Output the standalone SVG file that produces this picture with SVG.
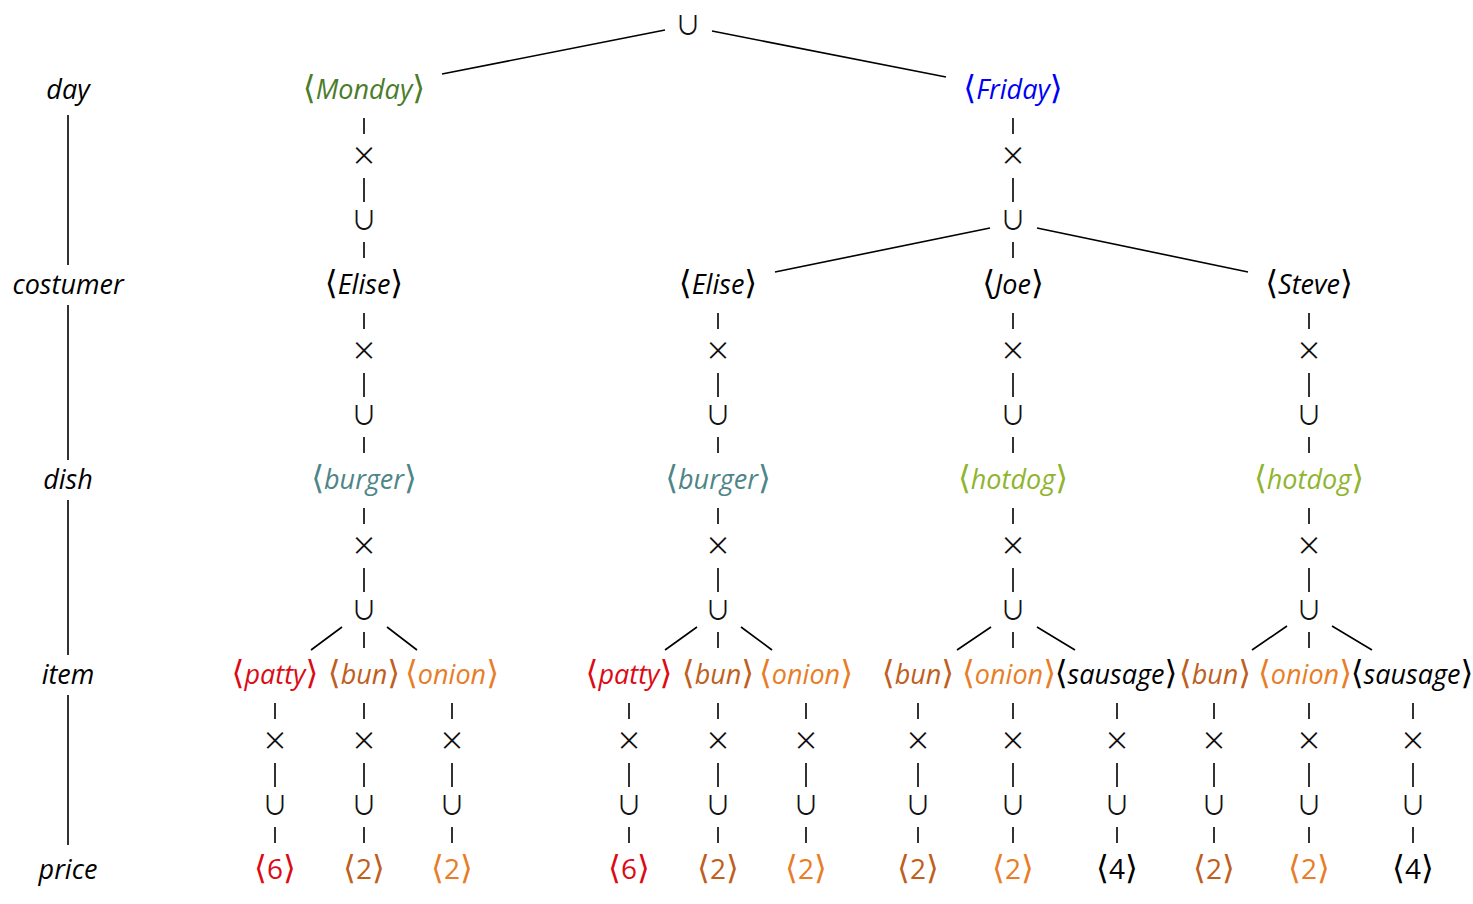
<svg xmlns="http://www.w3.org/2000/svg" width="1473" height="904" viewBox="0 0 1473 904">
  <style>
    .w { font-family: "Open Sans", "Noto Sans", "DejaVu Sans", sans-serif; font-style: italic; font-size: 27px; text-anchor: middle; }
    .n { font-family: "Open Sans", "Noto Sans", "DejaVu Sans", sans-serif; font-style: normal; font-size: 28px; text-anchor: middle; }
    .b { font-family: "DejaVu Sans", sans-serif; font-style: normal; font-size: 33px; }
    .op { font-family: "Noto Sans CJK JP", "DejaVu Sans", sans-serif; font-size: 26px; text-anchor: middle; fill: #111; }
    .lvl { font-family: "Open Sans", "Noto Sans", "DejaVu Sans", sans-serif; font-style: italic; font-size: 27px; text-anchor: middle; fill: #000; }
    .edge { stroke: #000; stroke-width: 1.6; fill: none; }
    .mon { fill: #4b7c2a; }
    .fri { fill: #0000f5; }
    .per { fill: #000; }
    .burger { fill: #4e8587; }
    .hotdog { fill: #8fb42d; }
    .patty { fill: #dc0a14; }
    .bun { fill: #be5f1e; }
    .onion { fill: #e87d28; }
    .sausage { fill: #000; }
  </style>

  <!-- connectors -->
  <g id="connectors" class="edge">
    <!-- level axis -->
    <path d="M68 115 V265 M68 305 V460 M68 500 V655 M68 695 V845"/>
    <!-- root union branches -->
    <path d="M665 30 L442 74 M712 31 L946 77"/>
    <!-- Monday chain -->
    <path d="M364 118 V134 M364 178 V202 M364 242 V258 M364 313 V329 M364 373 V397 M364 437 V453 M364 508 V524 M364 568 V592 M364 632 V648"/>
    <path d="M342 627 L311 650 M387 627 L417 650"/>
    <!-- Friday chain -->
    <path d="M1013 118 V134 M1013 178 V202 M1013 242 V258"/>
    <path d="M990 228 L775 272 M1037 228 L1248 272"/>
    <!-- Friday / Elise -->
    <path d="M718 313 V329 M718 373 V397 M718 437 V453 M718 508 V524 M718 568 V592 M718 632 V648"/>
    <path d="M697 627 L665 650 M741 627 L772 650"/>
    <!-- Friday / Joe -->
    <path d="M1013 313 V329 M1013 373 V397 M1013 437 V453 M1013 508 V524 M1013 568 V592 M1013 632 V648"/>
    <path d="M991 627 L957 650 M1037 627 L1075 650"/>
    <!-- Friday / Steve -->
    <path d="M1309 313 V329 M1309 373 V397 M1309 437 V453 M1309 508 V524 M1309 568 V592 M1309 632 V648"/>
    <path d="M1287 626 L1252 650 M1332 626 L1372 650"/>
    <!-- item to price chains -->
    <path d="M275 703 V719 M275 763 V787 M275 827 V843"/>
    <path d="M364 703 V719 M364 763 V787 M364 827 V843"/>
    <path d="M452 703 V719 M452 763 V787 M452 827 V843"/>
    <path d="M629 703 V719 M629 763 V787 M629 827 V843"/>
    <path d="M718 703 V719 M718 763 V787 M718 827 V843"/>
    <path d="M806 703 V719 M806 763 V787 M806 827 V843"/>
    <path d="M918 703 V719 M918 763 V787 M918 827 V843"/>
    <path d="M1013 703 V719 M1013 763 V787 M1013 827 V843"/>
    <path d="M1117 703 V719 M1117 763 V787 M1117 827 V843"/>
    <path d="M1214 703 V719 M1214 763 V787 M1214 827 V843"/>
    <path d="M1309 703 V719 M1309 763 V787 M1309 827 V843"/>
    <path d="M1413 703 V719 M1413 763 V787 M1413 827 V843"/>
  </g>

  <!-- level labels -->
  <g id="levels">
    <text class="lvl" x="68" y="99">day</text>
    <text class="lvl" x="68" y="294">costumer</text>
    <text class="lvl" x="68" y="489">dish</text>
    <text class="lvl" x="68" y="684">item</text>
    <text class="lvl" x="68" y="879">price</text>
  </g>

  <!-- root -->
  <g id="root"><text class="op" x="688" y="35">∪</text></g>

  <!-- Monday branch -->
  <g id="monday"><text class="w mon" x="364" y="99"><tspan class="b">⟨</tspan>Monday<tspan class="b">⟩</tspan></text></g>
  <g id="monday-x"><text class="op" x="364" y="165">×</text></g>
  <g id="monday-u"><text class="op" x="364" y="230">∪</text></g>
  <g id="monday-elise"><text class="w per" x="364" y="294"><tspan class="b">⟨</tspan>Elise<tspan class="b">⟩</tspan></text></g>
  <g id="monday-elise-x"><text class="op" x="364" y="360">×</text></g>
  <g id="monday-elise-u"><text class="op" x="364" y="425">∪</text></g>
  <g id="monday-burger"><text class="w burger" x="364" y="489"><tspan class="b">⟨</tspan>burger<tspan class="b">⟩</tspan></text></g>
  <g id="monday-burger-x"><text class="op" x="364" y="555">×</text></g>
  <g id="monday-burger-u"><text class="op" x="364" y="620">∪</text></g>

  <g id="m-patty"><text class="w patty" x="275" y="684"><tspan class="b">⟨</tspan>patty<tspan class="b">⟩</tspan></text></g>
  <g id="m-bun"><text class="w bun" x="364" y="684"><tspan class="b">⟨</tspan>bun<tspan class="b">⟩</tspan></text></g>
  <g id="m-onion"><text class="w onion" x="452" y="684"><tspan class="b">⟨</tspan>onion<tspan class="b">⟩</tspan></text></g>
  <g id="m-patty-x"><text class="op" x="275" y="750">×</text></g>
  <g id="m-bun-x"><text class="op" x="364" y="750">×</text></g>
  <g id="m-onion-x"><text class="op" x="452" y="750">×</text></g>
  <g id="m-patty-u"><text class="op" x="275" y="815">∪</text></g>
  <g id="m-bun-u"><text class="op" x="364" y="815">∪</text></g>
  <g id="m-onion-u"><text class="op" x="452" y="815">∪</text></g>
  <g id="m-patty-price"><text class="n patty" x="275" y="879"><tspan class="b">⟨</tspan>6<tspan class="b">⟩</tspan></text></g>
  <g id="m-bun-price"><text class="n bun" x="364" y="879"><tspan class="b">⟨</tspan>2<tspan class="b">⟩</tspan></text></g>
  <g id="m-onion-price"><text class="n onion" x="452" y="879"><tspan class="b">⟨</tspan>2<tspan class="b">⟩</tspan></text></g>

  <!-- Friday branch -->
  <g id="friday"><text class="w fri" x="1013" y="99"><tspan class="b">⟨</tspan>Friday<tspan class="b">⟩</tspan></text></g>
  <g id="friday-x"><text class="op" x="1013" y="165">×</text></g>
  <g id="friday-u"><text class="op" x="1013" y="230">∪</text></g>

  <!-- Friday / Elise -->
  <g id="friday-elise"><text class="w per" x="718" y="294"><tspan class="b">⟨</tspan>Elise<tspan class="b">⟩</tspan></text></g>
  <g id="friday-elise-x"><text class="op" x="718" y="360">×</text></g>
  <g id="friday-elise-u"><text class="op" x="718" y="425">∪</text></g>
  <g id="friday-burger"><text class="w burger" x="718" y="489"><tspan class="b">⟨</tspan>burger<tspan class="b">⟩</tspan></text></g>
  <g id="friday-burger-x"><text class="op" x="718" y="555">×</text></g>
  <g id="friday-burger-u"><text class="op" x="718" y="620">∪</text></g>

  <g id="e-patty"><text class="w patty" x="629" y="684"><tspan class="b">⟨</tspan>patty<tspan class="b">⟩</tspan></text></g>
  <g id="e-bun"><text class="w bun" x="718" y="684"><tspan class="b">⟨</tspan>bun<tspan class="b">⟩</tspan></text></g>
  <g id="e-onion"><text class="w onion" x="806" y="684"><tspan class="b">⟨</tspan>onion<tspan class="b">⟩</tspan></text></g>
  <g id="e-patty-x"><text class="op" x="629" y="750">×</text></g>
  <g id="e-bun-x"><text class="op" x="718" y="750">×</text></g>
  <g id="e-onion-x"><text class="op" x="806" y="750">×</text></g>
  <g id="e-patty-u"><text class="op" x="629" y="815">∪</text></g>
  <g id="e-bun-u"><text class="op" x="718" y="815">∪</text></g>
  <g id="e-onion-u"><text class="op" x="806" y="815">∪</text></g>
  <g id="e-patty-price"><text class="n patty" x="629" y="879"><tspan class="b">⟨</tspan>6<tspan class="b">⟩</tspan></text></g>
  <g id="e-bun-price"><text class="n bun" x="718" y="879"><tspan class="b">⟨</tspan>2<tspan class="b">⟩</tspan></text></g>
  <g id="e-onion-price"><text class="n onion" x="806" y="879"><tspan class="b">⟨</tspan>2<tspan class="b">⟩</tspan></text></g>

  <!-- Friday / Joe -->
  <g id="joe"><text class="w per" x="1013" y="294"><tspan class="b">⟨</tspan>Joe<tspan class="b">⟩</tspan></text></g>
  <g id="joe-x"><text class="op" x="1013" y="360">×</text></g>
  <g id="joe-u"><text class="op" x="1013" y="425">∪</text></g>
  <g id="joe-hotdog"><text class="w hotdog" x="1013" y="489"><tspan class="b">⟨</tspan>hotdog<tspan class="b">⟩</tspan></text></g>
  <g id="joe-hotdog-x"><text class="op" x="1013" y="555">×</text></g>
  <g id="joe-hotdog-u"><text class="op" x="1013" y="620">∪</text></g>

  <g id="j-bun"><text class="w bun" x="918" y="684"><tspan class="b">⟨</tspan>bun<tspan class="b">⟩</tspan></text></g>
  <g id="j-onion"><text class="w onion" x="1009" y="684"><tspan class="b">⟨</tspan>onion<tspan class="b">⟩</tspan></text></g>
  <g id="j-sausage"><text class="w sausage" x="1116" y="684"><tspan class="b">⟨</tspan>sausage<tspan class="b">⟩</tspan></text></g>
  <g id="j-bun-x"><text class="op" x="918" y="750">×</text></g>
  <g id="j-onion-x"><text class="op" x="1013" y="750">×</text></g>
  <g id="j-sausage-x"><text class="op" x="1117" y="750">×</text></g>
  <g id="j-bun-u"><text class="op" x="918" y="815">∪</text></g>
  <g id="j-onion-u"><text class="op" x="1013" y="815">∪</text></g>
  <g id="j-sausage-u"><text class="op" x="1117" y="815">∪</text></g>
  <g id="j-bun-price"><text class="n bun" x="918" y="879"><tspan class="b">⟨</tspan>2<tspan class="b">⟩</tspan></text></g>
  <g id="j-onion-price"><text class="n onion" x="1013" y="879"><tspan class="b">⟨</tspan>2<tspan class="b">⟩</tspan></text></g>
  <g id="j-sausage-price"><text class="n sausage" x="1117" y="879"><tspan class="b">⟨</tspan>4<tspan class="b">⟩</tspan></text></g>

  <!-- Friday / Steve -->
  <g id="steve"><text class="w per" x="1309" y="294"><tspan class="b">⟨</tspan>Steve<tspan class="b">⟩</tspan></text></g>
  <g id="steve-x"><text class="op" x="1309" y="360">×</text></g>
  <g id="steve-u"><text class="op" x="1309" y="425">∪</text></g>
  <g id="steve-hotdog"><text class="w hotdog" x="1309" y="489"><tspan class="b">⟨</tspan>hotdog<tspan class="b">⟩</tspan></text></g>
  <g id="steve-hotdog-x"><text class="op" x="1309" y="555">×</text></g>
  <g id="steve-hotdog-u"><text class="op" x="1309" y="620">∪</text></g>

  <g id="s-bun"><text class="w bun" x="1215" y="684"><tspan class="b">⟨</tspan>bun<tspan class="b">⟩</tspan></text></g>
  <g id="s-onion"><text class="w onion" x="1305" y="684"><tspan class="b">⟨</tspan>onion<tspan class="b">⟩</tspan></text></g>
  <g id="s-sausage"><text class="w sausage" x="1412" y="684"><tspan class="b">⟨</tspan>sausage<tspan class="b">⟩</tspan></text></g>
  <g id="s-bun-x"><text class="op" x="1214" y="750">×</text></g>
  <g id="s-onion-x"><text class="op" x="1309" y="750">×</text></g>
  <g id="s-sausage-x"><text class="op" x="1413" y="750">×</text></g>
  <g id="s-bun-u"><text class="op" x="1214" y="815">∪</text></g>
  <g id="s-onion-u"><text class="op" x="1309" y="815">∪</text></g>
  <g id="s-sausage-u"><text class="op" x="1413" y="815">∪</text></g>
  <g id="s-bun-price"><text class="n bun" x="1214" y="879"><tspan class="b">⟨</tspan>2<tspan class="b">⟩</tspan></text></g>
  <g id="s-onion-price"><text class="n onion" x="1309" y="879"><tspan class="b">⟨</tspan>2<tspan class="b">⟩</tspan></text></g>
  <g id="s-sausage-price"><text class="n sausage" x="1413" y="879"><tspan class="b">⟨</tspan>4<tspan class="b">⟩</tspan></text></g>
</svg>
